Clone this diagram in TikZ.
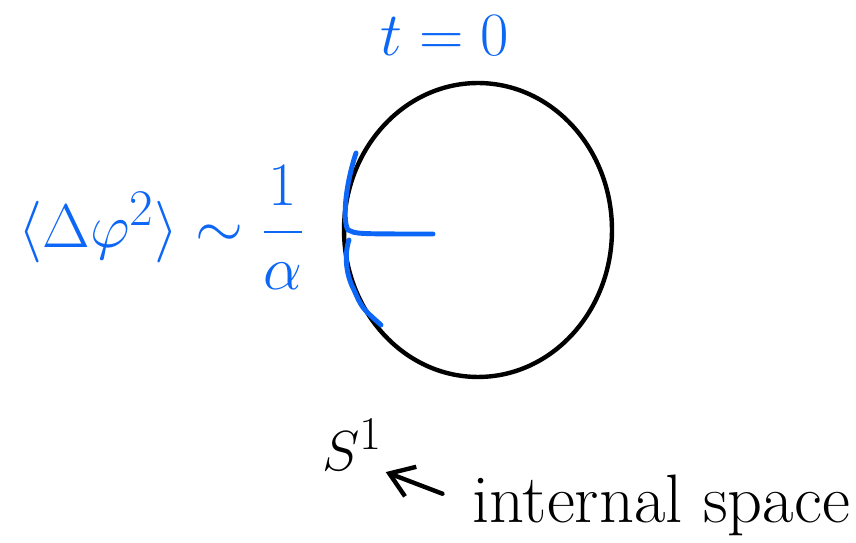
\documentclass[tikz,border=0pt]{standalone}
\usepackage{amsmath,amssymb}
\usepackage{xcolor}
\usetikzlibrary{positioning, arrows.meta, shapes.geometric}
\definecolor{penblue}{RGB}{12,102,246}

\begin{document}
\begin{tikzpicture}[x=0.02cm, y=-0.02cm]
  \useasboundingbox (0,0) rectangle (856,543);
  \draw
    (445,36) node[text=penblue, inner sep=0, font=\Huge, scale=1.41] (time){$t=0$}
    (162,228) node[text=penblue, inner sep=0, font=\Huge, scale=1.41] (spread){$\langle\Delta\varphi^2\rangle\sim\dfrac{1}{\alpha}$}
    (478,230) node[ellipse, draw, line width=2.5pt, minimum width=5.36cm, minimum height=5.88cm] (ring){}
    (352,445) node[inner sep=0, font=\Huge, scale=1.29] (sone){$S^1$}
    (472,505) node[anchor=west, inner sep=0, font=\fontsize{39}{46}\selectfont] (space){internal space};
  % blue brace on the ring
  \draw[penblue, line width=2.8pt, line cap=round]
    (356,153) .. controls (344,190) and (343,222) .. (348,230) .. controls (356,234) .. (433,234);
  \draw[penblue, line width=2.8pt, line cap=round]
    (349,240) .. controls (344,255) and (346,275) .. (354,290) .. controls (362,308) .. (381,325);
  \begin{scope}[-{Straight Barb[length=13pt, width=18pt]}, line width=2.5pt, line cap=round]
    \draw[shorten <=18pt, shorten >=2pt] (space.west) to (sone.south east);
  \end{scope}
\end{tikzpicture}
\end{document}
